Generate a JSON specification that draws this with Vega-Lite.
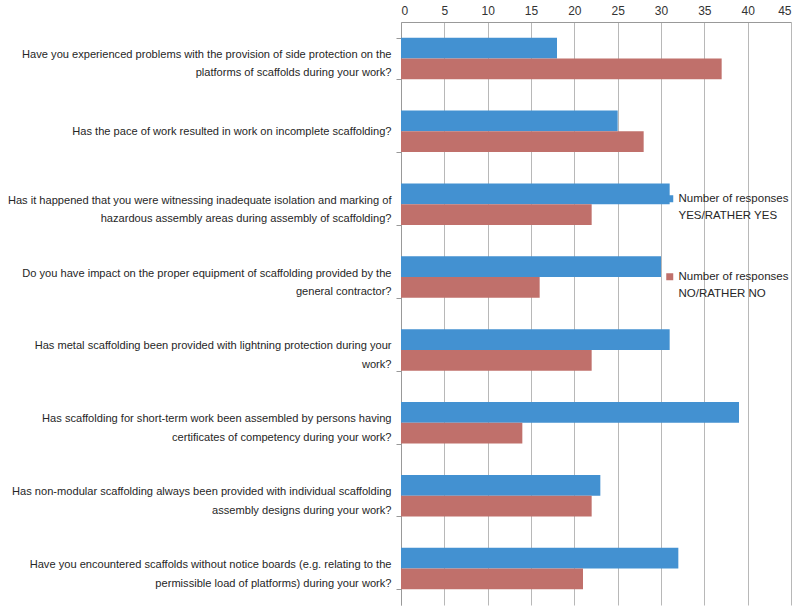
{
  "$schema": "https://vega.github.io/schema/vega-lite/v6.json",
  "width": 390,
  "height": 583,
  "autosize": {"type": "none"},
  "padding": {"left": 401, "top": 22, "right": 9, "bottom": 2},
  "background": "white",
  "config": {
    "view": {"stroke": null},
    "font": "Liberation Sans",
    "style": {"guide-label": {"lineHeight": 17}}
  },
  "data": {
    "values": [
      {"question": "Have you experienced problems with the provision of side protection on the\nplatforms of scaffolds during your work?", "series": "Number of responses YES/RATHER YES", "value": 18},
      {"question": "Have you experienced problems with the provision of side protection on the\nplatforms of scaffolds during your work?", "series": "Number of responses NO/RATHER NO", "value": 37},
      {"question": "Has the pace of work resulted in work on incomplete scaffolding?", "series": "Number of responses YES/RATHER YES", "value": 25},
      {"question": "Has the pace of work resulted in work on incomplete scaffolding?", "series": "Number of responses NO/RATHER NO", "value": 28},
      {"question": "Has it happened that you were witnessing inadequate isolation and marking of\nhazardous assembly areas during assembly of scaffolding?", "series": "Number of responses YES/RATHER YES", "value": 31},
      {"question": "Has it happened that you were witnessing inadequate isolation and marking of\nhazardous assembly areas during assembly of scaffolding?", "series": "Number of responses NO/RATHER NO", "value": 22},
      {"question": "Do you have impact on the proper equipment of scaffolding provided by the\ngeneral contractor?", "series": "Number of responses YES/RATHER YES", "value": 30},
      {"question": "Do you have impact on the proper equipment of scaffolding provided by the\ngeneral contractor?", "series": "Number of responses NO/RATHER NO", "value": 16},
      {"question": "Has metal scaffolding been provided with lightning protection during your\nwork?", "series": "Number of responses YES/RATHER YES", "value": 31},
      {"question": "Has metal scaffolding been provided with lightning protection during your\nwork?", "series": "Number of responses NO/RATHER NO", "value": 22},
      {"question": "Has scaffolding for short-term work been assembled by persons having\ncertificates of competency during your work?", "series": "Number of responses YES/RATHER YES", "value": 39},
      {"question": "Has scaffolding for short-term work been assembled by persons having\ncertificates of competency during your work?", "series": "Number of responses NO/RATHER NO", "value": 14},
      {"question": "Has non-modular scaffolding always been provided with individual scaffolding\nassembly designs during your work?", "series": "Number of responses YES/RATHER YES", "value": 23},
      {"question": "Has non-modular scaffolding always been provided with individual scaffolding\nassembly designs during your work?", "series": "Number of responses NO/RATHER NO", "value": 22},
      {"question": "Have you encountered scaffolds without notice boards (e.g. relating to the\npermissible load of platforms) during your work?", "series": "Number of responses YES/RATHER YES", "value": 32},
      {"question": "Have you encountered scaffolds without notice boards (e.g. relating to the\npermissible load of platforms) during your work?", "series": "Number of responses NO/RATHER NO", "value": 21}
    ]
  },
  "mark": {"type": "bar"},
  "encoding": {
    "y": {
      "field": "question",
      "type": "nominal",
      "sort": null,
      "scale": {"paddingInner": 0.43, "paddingOuter": 0.215},
      "axis": {
        "title": null,
        "labelExpr": "split(datum.label, '\\n')",
        "labelFontSize": 11.1,
        "labelLineHeight": 18.5,
        "labelColor": "#262626",
        "labelLimit": 0,
        "labelPadding": 5,
        "labelOffset": {"condition": {"test": "indexof(datum.label, '\\n') >= 0", "value": -4}, "value": 0},
        "tickBand": "extent",
        "tickSize": 5,
        "tickColor": "#999999",
        "domainColor": "#999999"
      }
    },
    "x": {
      "field": "value",
      "type": "quantitative",
      "scale": {"domain": [0, 45]},
      "axis": {
        "orient": "top",
        "values": [0, 5, 10, 15, 20, 25, 30, 35, 40, 45],
        "title": null,
        "grid": true,
        "gridColor": "#b8b8b8",
        "ticks": false,
        "domainColor": "#999999",
        "labelFontSize": 12,
        "labelColor": "#333333",
        "labelPadding": 5
      }
    },
    "yOffset": {
      "field": "series",
      "sort": ["Number of responses YES/RATHER YES", "Number of responses NO/RATHER NO"]
    },
    "color": {
      "field": "series",
      "type": "nominal",
      "scale": {
        "domain": ["Number of responses YES/RATHER YES", "Number of responses NO/RATHER NO"],
        "range": ["#4391D1", "#C0706B"]
      },
      "legend": {
        "orient": "none",
        "legendX": 263,
        "legendY": 171,
        "title": null,
        "symbolType": "square",
        "symbolSize": 49,
        "symbolStrokeWidth": 0,
        "labelFontSize": 11.5,
        "labelOffset": 3,
        "labelColor": "#262626",
        "labelLimit": 0,
        "labelExpr": "['Number of responses', replace(datum.label, 'Number of responses ', '')]",
        "rowPadding": 48
      }
    }
  }
}
